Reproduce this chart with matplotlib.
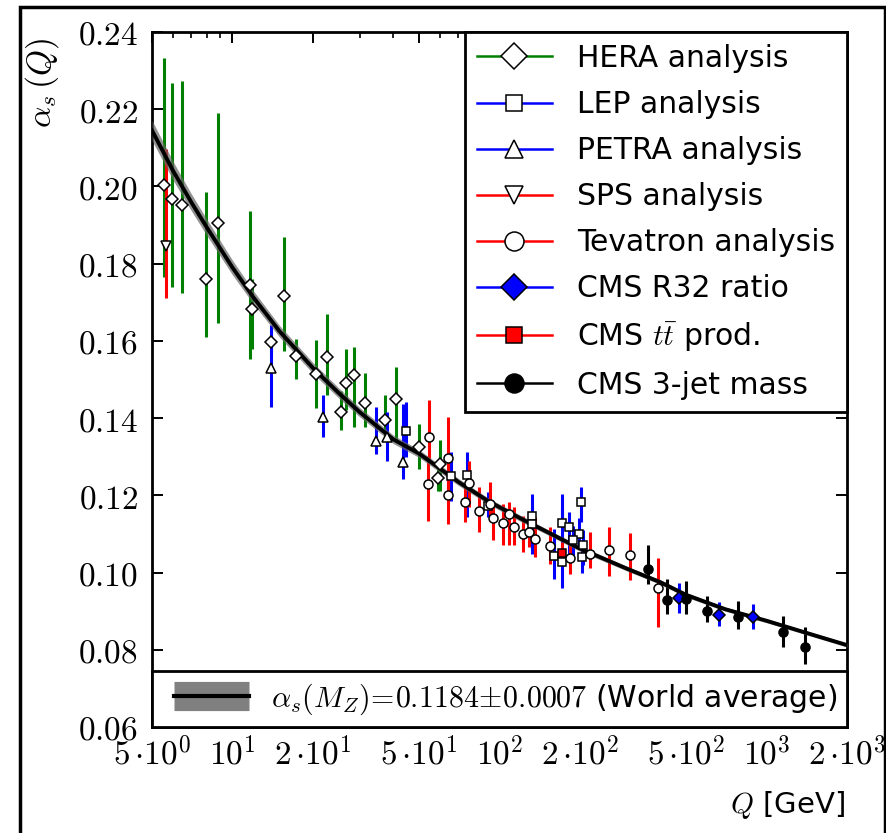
import numpy as np
import matplotlib
matplotlib.use('Agg')
import matplotlib.pyplot as plt
from matplotlib.lines import Line2D
from matplotlib.patches import Rectangle
from matplotlib.legend_handler import HandlerTuple
from matplotlib.ticker import FixedLocator, FixedFormatter, LogLocator, NullFormatter

plt.rcParams['mathtext.fontset'] = 'cm'
plt.rcParams['font.family'] = ['DejaVu Sans']

# ---------------------------------------------------------
# World average running curve
# ---------------------------------------------------------
wa_q = [5, 6, 7, 8, 10, 12, 15, 20, 25, 30, 40, 50, 70, 91.19, 120, 150, 200,
        300, 400, 500, 700, 1000, 1500, 2000]
wa_alpha = [0.2145, 0.2040, 0.1960, 0.1895, 0.1790, 0.1712, 0.1625, 0.1530,
            0.1465, 0.1415, 0.1345, 0.1308, 0.1235, 0.1184, 0.1140, 0.1106,
            0.1062, 0.1010, 0.0975, 0.0942, 0.0905, 0.0875, 0.0838, 0.0812]
wa_band = [0.0026, 0.0024, 0.0022, 0.0021, 0.0019, 0.0017, 0.0015, 0.0014,
           0.0013, 0.0012, 0.0011, 0.0010, 0.0009, 0.0008, 0.0008, 0.0007,
           0.0007, 0.0006, 0.0006, 0.0006, 0.0005, 0.0005, 0.0005, 0.0005]

# ---------------------------------------------------------
# Measurements: Q, alpha_s, upper / lower end of the error bar
# ---------------------------------------------------------
hera_q = [5.56, 5.96, 6.46, 7.94, 8.83, 11.64, 11.8, 13.9, 15.6, 17.26, 20.56,
          22.66, 25.4, 26.6, 28.5, 31.4, 37.3, 40.9, 50.1, 59.0, 59.9]
hera_a = [0.2003, 0.1967, 0.1951, 0.1761, 0.1905, 0.1744, 0.1683, 0.1597,
          0.1717, 0.1562, 0.1515, 0.1558, 0.1415, 0.1491, 0.1511, 0.1439,
          0.1394, 0.1450, 0.1326, 0.1245, 0.1281]
hera_up = [0.2332, 0.2267, 0.2273, 0.1986, 0.2191, 0.1937, 0.1760, 0.1630,
           0.1869, 0.1605, 0.1603, 0.1670, 0.1470, 0.1580, 0.1584, 0.1516,
           0.1459, 0.1532, 0.1385, 0.1280, 0.1342]
hera_dn = [0.1765, 0.1739, 0.1724, 0.1610, 0.1646, 0.1552, 0.1580, 0.1560,
           0.1575, 0.1500, 0.1426, 0.1459, 0.1370, 0.1420, 0.1376, 0.1376,
           0.1342, 0.1337, 0.1268, 0.1210, 0.1212]

lep_q = [44.7, 65.7, 75.7, 90.6, 132.6, 132.6, 160.4, 171.0, 171.0, 182.5,
         201.4, 198.5, 188.9, 204.9, 203.1]
lep_a = [0.1366, 0.1249, 0.1253, 0.1171, 0.1147, 0.1126, 0.1044, 0.1026,
         0.1127, 0.1119, 0.1182, 0.1101, 0.1083, 0.1070, 0.1039]
lep_up = [0.1441, 0.1312, 0.1312, 0.1208, 0.1204, 0.1170, 0.1113, 0.1204,
          0.1170, 0.1156, 0.1221, 0.1140, 0.1120, 0.1110, 0.1078]
lep_dn = [0.1299, 0.1186, 0.1143, 0.1143, 0.1100, 0.1048, 0.0983, 0.0961,
          0.1085, 0.1048, 0.1130, 0.1060, 0.1040, 0.1020, 0.1000]

petra_q = [13.9, 21.8, 34.4, 38.0, 43.6]
petra_a = [0.1530, 0.1402, 0.1340, 0.1352, 0.1286]
petra_up = [0.1640, 0.1459, 0.1428, 0.1415, 0.1437]
petra_dn = [0.1428, 0.1350, 0.1307, 0.1290, 0.1243]

sps_q = [5.64]
sps_a = [0.1845]
sps_up = [0.2098]
sps_dn = [0.1710]

tev_q = [54.6, 54.1, 64.3, 64.0, 74.3, 77.1, 84.0, 92.2, 94.3, 103.3, 108.8,
         113.6, 122.8, 129.3, 136.1, 154.6, 183.7, 218.2, 257.7, 308.1, 391.1]
tev_a = [0.1350, 0.1228, 0.1297, 0.1201, 0.1182, 0.1231, 0.1160, 0.1178,
         0.1140, 0.1127, 0.1152, 0.1119, 0.1100, 0.1104, 0.1087, 0.1068,
         0.1038, 0.1048, 0.1058, 0.1046, 0.0961]
tev_up = [0.1446, 0.1303, 0.1402, 0.1250, 0.1230, 0.1289, 0.1221, 0.1234,
          0.1178, 0.1178, 0.1182, 0.1169, 0.1147, 0.1145, 0.1143, 0.1117,
          0.1096, 0.1104, 0.1117, 0.1103, 0.1038]
tev_dn = [0.1290, 0.1134, 0.1200, 0.1126, 0.1130, 0.1169, 0.1104, 0.1134,
          0.1083, 0.1070, 0.1070, 0.1070, 0.1052, 0.1065, 0.1040, 0.1022,
          0.0996, 0.1013, 0.0992, 0.0981, 0.0858]

r32_q = [471.2, 663.6, 891.7]
r32_a = [0.0933, 0.0891, 0.0886]
r32_up = [0.0974, 0.0923, 0.0919]
r32_dn = [0.0895, 0.0862, 0.0855]

tt_q = [171.0]
tt_a = [0.1050]
tt_up = [0.1080]
tt_dn = [0.1020]

jet_q = [358.9, 424.9, 499.2, 596.9, 783.4, 1155, 1392]
jet_a = [0.1009, 0.0930, 0.0931, 0.0901, 0.0884, 0.0845, 0.0806]
jet_up = [0.1070, 0.0983, 0.0979, 0.0940, 0.0925, 0.0888, 0.0860]
jet_dn = [0.0970, 0.0892, 0.0892, 0.0871, 0.0853, 0.0806, 0.0763]

legend_labels = ['HERA analysis', 'LEP analysis', 'PETRA analysis', 'SPS analysis',
                 'Tevatron analysis', 'CMS R32 ratio', r'CMS $t\bar{t}$ prod.',
                 'CMS 3-jet mass']
wa_label = r'$\alpha_s(M_Z)\!=\!0.1184\!\pm\!0.0007$ (World average)'

xticks = [5, 10, 20, 50, 100, 200, 500, 1000, 2000]
xticklabels = [r'$5\,{\cdot}10^{0}$', r'$10^{1}$', r'$2\,{\cdot}10^{1}$',
               r'$5\,{\cdot}10^{1}$', r'$10^{2}$', r'$2\,{\cdot}10^{2}$',
               r'$5\,{\cdot}10^{2}$', r'$10^{3}$', r'$2\,{\cdot}10^{3}$']
yticks = [0.06, 0.08, 0.10, 0.12, 0.14, 0.16, 0.18, 0.20, 0.22, 0.24]


def draw_series(ax, q, a, up, dn, color, marker, ms, mfc):
    q, a, up, dn = map(np.asarray, (q, a, up, dn))
    ax.errorbar(q, a, yerr=[a - dn, up - a], fmt='none', ecolor=color,
                elinewidth=2.2, capsize=0, zorder=2)
    ax.plot(q, a, ls='none', marker=marker, ms=ms, mfc=mfc, mec='k',
            mew=1.1, zorder=5)


fig = plt.figure(figsize=(8.87, 8.33), dpi=100)
ax = fig.add_axes([0.1714, 0.1273, 0.9549 - 0.1714, 0.9616 - 0.1273])

# world average band + line
ax.fill_between(wa_q, np.array(wa_alpha) - np.array(wa_band),
                np.array(wa_alpha) + np.array(wa_band),
                color='0.4', alpha=0.7, lw=0, zorder=3)
ax.plot(wa_q, wa_alpha, color='k', lw=2.8, zorder=4)

styles = [
    (hera_q, hera_a, hera_up, hera_dn, 'g', 'D', 6.2, 'w'),
    (lep_q, lep_a, lep_up, lep_dn, 'b', 's', 5.8, 'w'),
    (petra_q, petra_a, petra_up, petra_dn, 'b', '^', 6.5, 'w'),
    (sps_q, sps_a, sps_up, sps_dn, 'r', 'v', 6.5, 'w'),
    (tev_q, tev_a, tev_up, tev_dn, 'r', 'o', 6.5, 'w'),
    (r32_q, r32_a, r32_up, r32_dn, 'b', 'D', 6.2, 'b'),
    (tt_q, tt_a, tt_up, tt_dn, 'r', 's', 5.8, 'r'),
    (jet_q, jet_a, jet_up, jet_dn, 'k', 'o', 6.5, 'k'),
]
handles = []
for q, a, up, dn, c, m, ms, fc in styles:
    draw_series(ax, q, a, up, dn, c, m, ms, fc)
    handles.append(Line2D([], [], color=c, lw=1.8, marker=m, ms=ms, mfc=fc,
                          mec='k', mew=1.1))

ax.set_xscale('log')
ax.set_xlim(5, 2000)
ax.set_ylim(0.06, 0.24)
ax.xaxis.set_major_locator(FixedLocator(xticks))
ax.xaxis.set_major_formatter(FixedFormatter(xticklabels))
ax.xaxis.set_minor_locator(LogLocator(base=10, subs=np.arange(2, 10), numticks=20))
ax.xaxis.set_minor_formatter(NullFormatter())
ax.yaxis.set_major_locator(FixedLocator(yticks))
ax.yaxis.set_major_formatter(FixedFormatter(['$%.2f$' % v for v in yticks]))

ax.tick_params(which='both', direction='in', top=True, right=True, labelsize=24)
ax.tick_params(which='major', length=8, width=1.4)
ax.tick_params(which='minor', length=4, width=1.2)
ax.tick_params(axis='y', pad=10)
ax.tick_params(axis='x', pad=7)
for s in ax.spines.values():
    s.set_linewidth(2)

leg = ax.legend(handles, legend_labels, loc='upper right', bbox_to_anchor=(1, 1),
                borderaxespad=0, fancybox=False, edgecolor='k', framealpha=1,
                fontsize=21.5, markerscale=2.1, handlelength=2.5,
                handletextpad=0.85, labelspacing=0.57, borderpad=0.4)
leg.get_frame().set_linewidth(2)
ax.add_artist(leg)

wa_handle = (Line2D([], [], color='0.5', lw=21, solid_capstyle='butt'),
             Line2D([], [], color='k', lw=3))
leg2 = ax.legend([wa_handle], [wa_label], loc='lower left',
                 bbox_to_anchor=(0, 0, 1, 0.1), mode='expand', borderaxespad=0,
                 fancybox=False, edgecolor='k', framealpha=1, fontsize=21.5,
                 handlelength=2.9, handletextpad=0.75, borderpad=0.34,
                 handler_map={tuple: HandlerTuple(ndivide=1, xpad=0.4)})
leg2.get_frame().set_linewidth(2)

fig.text(0.047, 0.90, r'$\alpha_s\,(Q)$', rotation=90, fontsize=24,
         ha='center', va='center')
fig.text(0.9526, 0.0336, r'$Q$ [GeV]', fontsize=21, ha='right', va='center')

fig.patches.append(Rectangle((0.0225, -0.02), 0.9752, 1.0116,
                             transform=fig.transFigure, fill=False,
                             lw=2.5, ec='k'))

fig.savefig('out.png', dpi=100)
